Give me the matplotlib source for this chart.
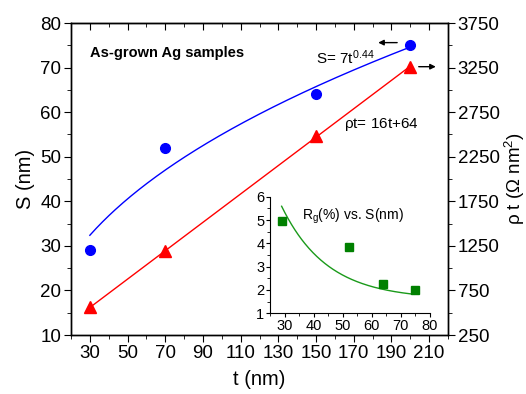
import numpy as np
import matplotlib
matplotlib.use('Agg')
import matplotlib.pyplot as plt
from matplotlib.ticker import MultipleLocator

plt.rcParams['font.family'] = ['Liberation Sans', 'DejaVu Sans']
plt.rcParams['mathtext.fontset'] = 'custom'
plt.rcParams['mathtext.rm'] = 'Liberation Sans'
plt.rcParams['mathtext.it'] = 'Liberation Sans'

# main data
t_nm = [30, 70, 150, 200]
S_nm = [29, 52, 64, 75]
rho_t = [560, 1190, 2480, 3260]

# S = a * t^b fit (as drawn)
S_fit_a = 7.25
S_fit_b = 0.44

# inset data: Rg (%) vs S (nm)
inset_S = [29, 52, 64, 75]
inset_Rg = [4.95, 3.85, 2.25, 2.0]
# exponential decay fit y0 + A*exp(-S/tau) (as drawn)
Rg_fit_y0 = 1.6
Rg_fit_A = 25.6
Rg_fit_tau = 15.6

fig = plt.figure(figsize=(5.26, 3.94), dpi=100)
ax = fig.add_axes([0.135, 0.1497, 0.7167, 0.7919])
ax2 = ax.twinx()

# blue: S vs t
tt = np.linspace(30, 198, 200)
ax.plot(tt, S_fit_a * tt ** S_fit_b, color='blue', lw=1)
ax.plot(t_nm, S_nm, 'o', color='blue', ms=7, zorder=5)

# red: rho t vs t
k, b = np.polyfit(t_nm, rho_t, 1)
tl = np.array([30, 200])
ax2.plot(tl, k * tl + b, color='red', lw=1)
ax2.plot(t_nm, rho_t, '^', color='red', ms=8, zorder=5)

ax.set_xlim(20, 220)
ax.set_ylim(10, 80)
ax2.set_ylim(250, 3750)

ax.set_xticks(np.arange(30, 211, 20))
ax.xaxis.set_minor_locator(MultipleLocator(10))
ax.yaxis.set_major_locator(MultipleLocator(10))
ax.yaxis.set_minor_locator(MultipleLocator(5))
ax2.set_yticks(np.arange(250, 3751, 500))
ax2.yaxis.set_minor_locator(MultipleLocator(250))

fs = 13.5
ax.tick_params(axis='both', which='major', direction='out', length=5, labelsize=fs, pad=2)
ax.tick_params(axis='both', which='minor', direction='out', length=3)
ax2.tick_params(axis='y', which='major', direction='out', length=5, labelsize=fs, pad=2)
ax2.tick_params(axis='y', which='minor', direction='out', length=3)

top = ax.secondary_xaxis('top')
top.set_xticks(np.arange(30, 211, 20))
top.xaxis.set_minor_locator(MultipleLocator(10))
top.tick_params(which='major', direction='in', length=5, labeltop=False)
top.tick_params(which='minor', direction='in', length=3)

for a in (ax, ax2):
    for sp in a.spines.values():
        sp.set_linewidth(1)

ax.set_xlabel('t (nm)', fontsize=fs + 1, labelpad=6)
ax.set_ylabel('S (nm)', fontsize=fs + 1, labelpad=4)
ax2.set_ylabel(r'$\rho$ t ($\Omega$ nm$^2$)', fontsize=fs, labelpad=2)

ax.text(30, 73.2, 'As-grown Ag samples', fontsize=10.5, fontweight='bold', va='center')
ax.text(150, 72.3, r'S= 7t$^{0.44}$', fontsize=11, va='center')
ax.text(165, 57.3, r'$\rho$t= 16t+64', fontsize=11, va='center')

ax.annotate('', xy=(181.5, 75.6), xytext=(194.5, 75.6),
            arrowprops=dict(arrowstyle='-|>', color='black', lw=1, mutation_scale=8))
ax.annotate('', xy=(215, 70.2), xytext=(203, 70.2),
            arrowprops=dict(arrowstyle='-|>', color='black', lw=1, mutation_scale=8))

# inset
axi = fig.add_axes([0.5133, 0.2048, 0.3042, 0.296])
axi.patch.set_alpha(0)
ss = np.linspace(29, 74.5, 200)
axi.plot(ss, Rg_fit_y0 + Rg_fit_A * np.exp(-ss / Rg_fit_tau), color='#1a9a1a', lw=1)
axi.plot(inset_S, inset_Rg, 's', color='green', ms=5.5)
axi.set_xlim(25, 80)
axi.set_ylim(1, 6)
axi.set_xticks(np.arange(30, 81, 10))
axi.set_yticks(np.arange(1, 7, 1))
axi.xaxis.set_minor_locator(MultipleLocator(5))
axi.yaxis.set_minor_locator(MultipleLocator(0.5))
axi.spines['top'].set_visible(False)
axi.spines['right'].set_visible(False)
axi.tick_params(which='major', direction='out', length=3, labelsize=10.5, pad=1)
axi.tick_params(which='minor', direction='out', length=2)
axi.text(36, 5.15, r'R$_g$(%) vs. S(nm)', fontsize=10, va='center')

fig.savefig('out.png', dpi=100)
